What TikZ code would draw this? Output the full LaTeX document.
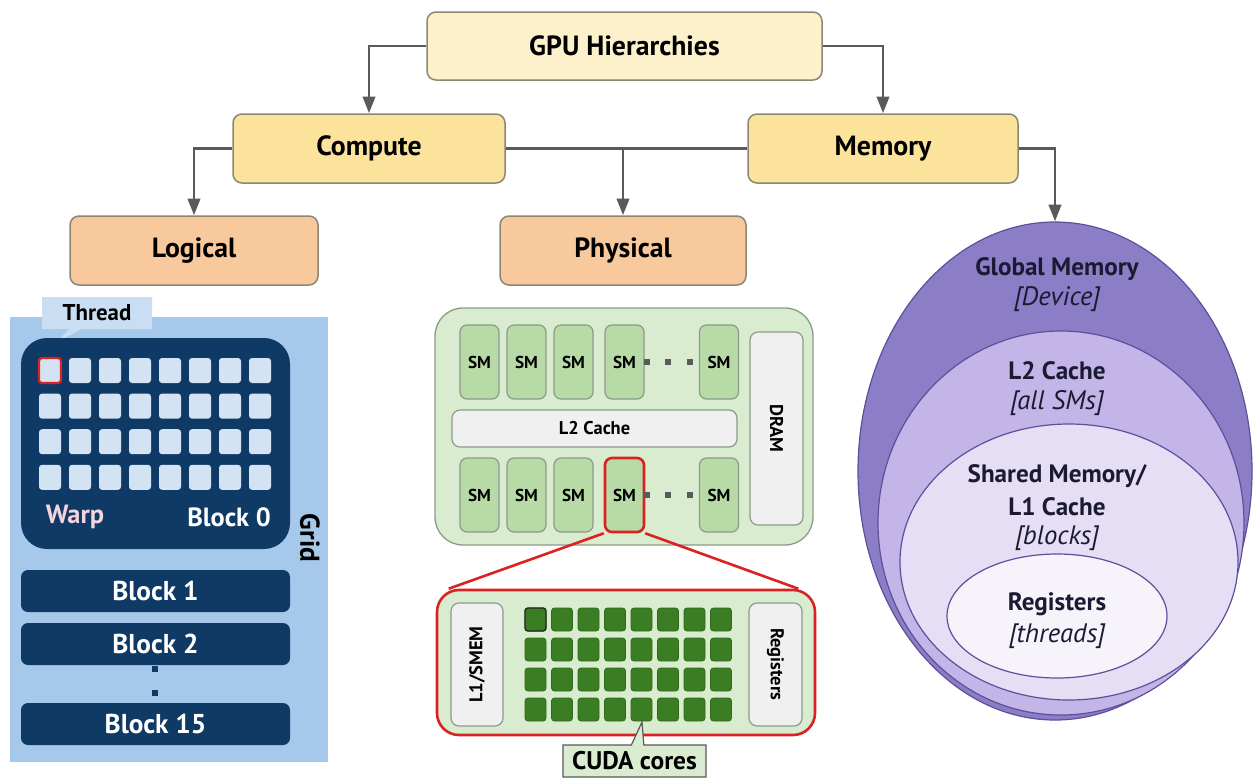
\documentclass[tikz,border=0pt]{standalone}
\usepackage{fontspec}
\setmainfont{PT Sans}
\usetikzlibrary{arrows.meta,shapes.geometric,shapes.callouts}
\newdimen\px \px=0.02cm
\definecolor{cgpu}{HTML}{FCF1CB}
\definecolor{cyel}{HTML}{FBE39C}
\definecolor{corg}{HTML}{F7C99C}
\definecolor{cbord}{HTML}{8E8674}
\definecolor{carrow}{HTML}{5A5A5A}
\definecolor{cgrid}{HTML}{A6C8EA}
\definecolor{ccall}{HTML}{C9DEF2}
\definecolor{cnavy}{HTML}{0F3A66}
\definecolor{cthr}{HTML}{D4E3F4}
\definecolor{cwarp}{HTML}{F4D3DF}
\definecolor{cred}{HTML}{D92323}
\definecolor{cpanel}{HTML}{D9ECCF}
\definecolor{cpbord}{HTML}{8C9A88}
\definecolor{csm}{HTML}{B7DAA6}
\definecolor{clight}{HTML}{F0F0F0}
\definecolor{ccore}{HTML}{3B7D23}
\definecolor{ccoreb}{HTML}{2E6A1B}
\definecolor{cgm}{HTML}{8B7DC6}
\definecolor{cgmb}{HTML}{5D4F9B}
\definecolor{cl2}{HTML}{C3B5E7}
\definecolor{csh}{HTML}{E5DEF4}
\definecolor{creg}{HTML}{F6F3FB}
\definecolor{cetext}{HTML}{1B1A33}
\begin{document}
\begin{tikzpicture}[x=0.02cm,y=-0.02cm,
  hdr/.style={draw=cbord,line width=1.5\px,rounded corners=9\px,inner sep=0pt,
    font=\fontsize{15.8}{19}\selectfont\bfseries},
  arr/.style={draw=carrow,line width=2.9\px,-{Triangle[width=7pt,length=9.5pt]}},
  plain/.style={draw=carrow,line width=2.9\px},
  thr/.style={fill=cthr,rounded corners=3\px,minimum width=22\px,minimum height=25\px,inner sep=0pt},
  blk/.style={fill=cnavy,rounded corners=7\px,minimum width=269\px,minimum height=42\px,inner sep=0pt,
    text=white,font=\fontsize{15.5}{18}\selectfont\bfseries},
  smbox/.style={draw=cpbord,fill=csm,line width=1.2\px,rounded corners=7\px,minimum width=39\px,
    minimum height=74\px,inner sep=0pt,font=\fontsize{9.8}{11}\selectfont\bfseries},
  lbox/.style={draw=cpbord,fill=clight,line width=1.2\px,rounded corners=8\px,inner sep=0pt,
    font=\fontsize{10.5}{12}\selectfont\bfseries},
  core/.style={fill=ccore,draw=ccoreb,line width=0.8\px,rounded corners=3\px,minimum width=21\px,
    minimum height=23\px,inner sep=0pt},
  dotsq/.style={fill=#1,minimum size=6\px,inner sep=0pt},
  ell/.style={ellipse,inner sep=0pt,draw=cgmb,line width=1.2\px},
  etxt/.style={text=cetext,font=\fontsize{14.3}{17}\selectfont\bfseries},
  eit/.style={text=cetext,font=\fontsize{15.2}{18}\selectfont\itshape}
]
\useasboundingbox (0,0) rectangle (1260,778);
\fill[white] (0,0) rectangle (1260,778);

% ---- top hierarchy ----
\node[hdr,fill=cgpu,minimum width=395\px,minimum height=68\px] (gpu) at (624.5,46) {GPU Hierarchies};
\node[hdr,fill=cyel,minimum width=272\px,minimum height=69\px] (compute) at (369,148.5) {Compute};
\node[hdr,fill=cyel,minimum width=270\px,minimum height=69\px] (memory) at (883,148.5) {Memory};
\node[hdr,fill=corg,minimum width=248\px,minimum height=69\px] (logical) at (194,250.5) {Logical};
\node[hdr,fill=corg,minimum width=246\px,minimum height=69\px] (physical) at (623,250.5) {Physical};

% ---- right ellipses ----
\node[ell,fill=cgm,minimum width=394\px,minimum height=498\px] (global) at (1055,471) {};
\node[ell,fill=cl2,minimum width=366\px,minimum height=384\px] (l2e) at (1061,523) {};
\node[ell,fill=csh,minimum width=338\px,minimum height=276\px] (shm) at (1069,562) {};
\node[ell,fill=creg,minimum width=220\px,minimum height=124\px] (rege) at (1057,616) {};
\node[etxt] (tgm) at (1057,269) {Global Memory};
\node[eit] (tdev) at (1057,299) {[Device]};
\node[etxt] (tl2) at (1057,371) {L2 Cache};
\node[eit] (tall) at (1057,403) {[all SMs]};
\node[etxt] (tsh) at (1057,476) {Shared Memory/};
\node[etxt] (tl1) at (1057,507) {L1 Cache};
\node[eit] (tblk) at (1057,538) {[blocks]};
\node[etxt] (treg) at (1057,604) {Registers};
\node[eit] (tthr) at (1057,636) {[threads]};

% ---- connectors ----
\draw[arr] (gpu.west) -| (compute.north);
\draw[arr] (gpu.east) -| (memory.north);
\draw[plain] (compute.east) -- (memory.west);
\draw[arr] (compute.east -| physical.north) -- (physical.north);
\draw[arr] (compute.west) -| (logical.north);
\draw[arr] (memory.east) -| (global.north);

% ---- logical: grid ----
\node[fill=cgrid,minimum width=318\px,minimum height=445\px,inner sep=0pt] (grid) at (169,539.5) {};
\node[rectangle callout,fill=ccall,minimum width=110\px,minimum height=32\px,inner sep=0pt,
  callout absolute pointer={(56,343)},font=\fontsize{13}{15}\selectfont\bfseries] (thread) at (97,313) {Thread};
\node[fill=cnavy,rounded corners=26\px,minimum width=269\px,minimum height=211\px,inner sep=0pt] (block0) at (155.5,443.5) {};
\foreach \i in {0,...,7} \foreach \j in {0,...,3}
  \node[thr] (t\i-\j) at ({50+30*\i},{370.5+35.6*\j}) {};
\node[thr,draw=cred,line width=2.2\px] (t0) at (50,370.5) {};
\node[text=cwarp,font=\fontsize{15}{18}\selectfont\bfseries] (warp) at (75,517) {Warp};
\node[text=white,font=\fontsize{15}{18}\selectfont\bfseries] (b0t) at (229,517) {Block 0};
\node[rotate=-90,font=\fontsize{15.5}{18}\selectfont\bfseries] (gridt) at (310,538) {Grid};
\node[blk] (block1) at (155.5,591) {Block 1};
\node[blk] (block2) at (155.5,644) {Block 2};
\node[blk] (block15) at (155.5,724) {Block 15};
\node[dotsq=cnavy] (d1) at (155,669) {};
\node[dotsq=cnavy] (d2) at (155,693) {};

% ---- physical panel ----
\node[draw=cpbord,fill=cpanel,line width=1.3\px,rounded corners=28\px,minimum width=378\px,
  minimum height=237\px,inner sep=0pt] (ppanel) at (624,426.5) {};
\foreach \x [count=\k] in {479.5,526.5,573.5,624.5,719} {
  \node[smbox] (smt\k) at (\x,362) {SM};
  \node[smbox] (smb\k) at (\x,495) {SM};
}
\node[smbox,draw=cred,line width=2.6\px] (smsel) at (624.5,495) {SM};
\foreach \x [count=\k] in {647,668,690} {
  \node[dotsq=carrow] (dt\k) at (\x,362) {};
  \node[dotsq=carrow] (db\k) at (\x,495) {};
}
\node[lbox,minimum width=285\px,minimum height=37\px] (l2c) at (594.5,428.5) {L2 Cache};
\node[lbox,minimum width=53\px,minimum height=193\px] (dram) at (776.5,428.5) {};
\node[rotate=-90,font=\fontsize{10.5}{12}\selectfont\bfseries] (dramt) at (dram.center) {DRAM};

% ---- SM zoom ----
\node[draw=cred,fill=cpanel,line width=2.6\px,rounded corners=22\px,minimum width=378\px,
  minimum height=145\px,inner sep=0pt] (smz) at (626,662.5) {};
\draw[cred,line width=2.6\px] (smsel.south west) -- ([xshift=13\px]smz.north west);
\draw[cred,line width=2.6\px] (smsel.south east) -- ([xshift=-18\px]smz.north east);
\node[lbox,minimum width=52\px,minimum height=123\px] (l1box) at (477,664.5) {};
\node[rotate=90,font=\fontsize{10.5}{12}\selectfont\bfseries] (l1t) at (l1box.center) {L1/SMEM};
\node[lbox,minimum width=53\px,minimum height=123\px] (regbox) at (775.5,664.5) {};
\node[rotate=-90,font=\fontsize{10.5}{12}\selectfont\bfseries] (regt) at (regbox.center) {Registers};
\foreach \i in {0,...,7} \foreach \j in {0,...,3}
  \node[core] (c\i-\j) at ({535.5+26.5*\i},{619.5+30*\j}) {};
\node[core,draw=black!85,line width=1.4\px] (c0) at (535.5,619.5) {};
\node[rectangle callout,draw=carrow,fill=cpanel,line width=1.2\px,minimum width=143\px,
  minimum height=32\px,inner sep=0pt,callout absolute pointer={(642,722)},
  font=\fontsize{14.5}{17}\selectfont\bfseries] (cuda) at (634.5,761) {CUDA cores};
\end{tikzpicture}
\end{document}
